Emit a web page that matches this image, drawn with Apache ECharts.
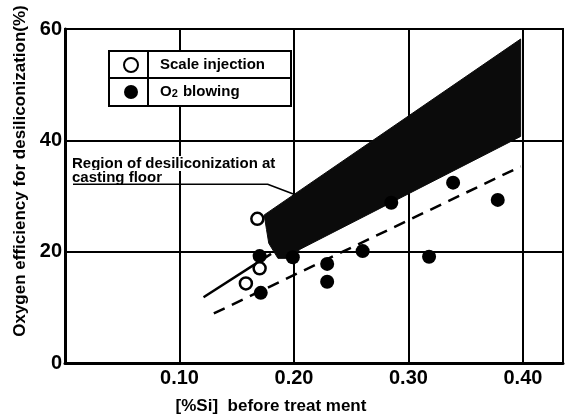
<!DOCTYPE html>
<html>
<head>
<meta charset="utf-8">
<script src="https://cdn.jsdelivr.net/npm/echarts@6/dist/echarts.min.js"></script>
<style>html,body{margin:0;padding:0;background:#fff}#c{width:566px;height:414px}</style>
</head>
<body>
<div id="c"></div>
<script>
// ---- data ----
const xTickValues = [0.10, 0.20, 0.30, 0.40];
const yTickValues = [0, 20, 40, 60];
const scaleX = [0.168, 0.170, 0.158];
const scaleY = [25.9, 17.0, 14.3];
const o2X = [0.170, 0.171, 0.199, 0.229, 0.229, 0.260, 0.285, 0.318, 0.339, 0.378];
const o2Y = [19.2, 12.6, 19.0, 17.8, 14.6, 20.1, 28.8, 19.1, 32.4, 29.3];
// shaded region (casting floor desiliconization) outline
const bandX = [0.174, 0.398, 0.398, 0.205, 0.199, 0.186, 0.178, 0.176];
const bandY = [26.6, 58.2, 40.7, 20.4, 18.8, 18.8, 21.5, 24.0];
// solid and dashed trend lines
const solidX = [0.121, 0.180];
const solidY = [11.8, 19.6];
const dashX = [0.130, 0.398];
const dashY = [8.9, 35.3];
// annotation leader line
const leaderX = [0.007, 0.177, 0.200];
const leaderY = [32.1, 32.1, 30.3];

const FONT = 'Liberation Sans, Arial, sans-serif';
const zip = (a, b) => a.map((v, i) => [v, b[i]]);

const chart = echarts.init(document.getElementById('c'), null, {renderer: 'canvas'});
chart.setOption({
  animation: false,
  backgroundColor: '#fff',
  grid: {left: 65, right: 3, top: 29, bottom: 51, show: true, borderColor: '#000', borderWidth: 2,
    containLabel: false, outerBoundsMode: 'none'},
  xAxis: {
    type: 'value', min: 0, max: 0.435, interval: 0.1,
    name: '[%Si]  before treat ment', nameLocation: 'middle', nameGap: 35,
    nameTextStyle: {fontSize: 17, fontWeight: 'bold', color: '#000', fontFamily: FONT, padding: [0, 86, 0, 0]},
    axisLine: {show: true, lineStyle: {color: '#000', width: 3}},
    axisTick: {show: false},
    axisLabel: {color: '#000', fontSize: 20, fontWeight: 'bold', fontFamily: FONT, margin: 5,
      formatter: v => (xTickValues.some(t => Math.abs(t - v) < 1e-9) ? v.toFixed(2) : '')},
    splitLine: {show: true, lineStyle: {color: '#000', width: 2}}
  },
  yAxis: {
    type: 'value', min: 0, max: 60, interval: 20,
    name: 'Oxygen efficiency for desiliconization(%)', nameLocation: 'middle', nameGap: 29, nameRotate: 90,
    nameTextStyle: {fontSize: 17, fontWeight: 'bold', color: '#000', fontFamily: FONT, padding: [0, 0, 0, 50]},
    axisLine: {show: true, lineStyle: {color: '#000', width: 3}},
    axisTick: {show: false},
    axisLabel: {color: '#000', fontSize: 20, fontWeight: 'bold', fontFamily: FONT, margin: 3,
      formatter: v => (yTickValues.includes(v) ? String(v) : '')},
    splitLine: {show: true, lineStyle: {color: '#000', width: 2}}
  },
  legend: {
    data: ['Scale injection', 'O2 blowing'],
    orient: 'vertical', left: 123, top: 57, padding: 0,
    itemWidth: 48, itemHeight: 14, itemGap: 10,
    textStyle: {fontSize: 15, fontWeight: 'bold', color: '#000', fontFamily: FONT, lineHeight: 14,
      rich: {sub: {fontSize: 11, fontWeight: 'bold', fontFamily: FONT, color: '#000', verticalAlign: 'bottom', lineHeight: 14, padding: [5, 1, 0, 0]}}},
    formatter: n => (n === 'O2 blowing' ? 'O{sub|2} blowing' : n),
    z: 5
  },
  graphic: [
    {type: 'rect', shape: {x: 109, y: 51, width: 182, height: 55}, style: {fill: '#fff', stroke: '#000', lineWidth: 2}, z: 3},
    {type: 'line', shape: {x1: 109, y1: 78, x2: 291, y2: 78}, style: {stroke: '#000', lineWidth: 2}, z: 3},
    {type: 'line', shape: {x1: 148, y1: 51, x2: 148, y2: 106}, style: {stroke: '#000', lineWidth: 2}, z: 3},
    {type: 'text', left: 72, top: 156, z: 3,
      style: {text: 'Region of desiliconization at', fontSize: 15, fontWeight: 'bold', fontFamily: FONT, fill: '#000', backgroundColor: '#fff'}},
    {type: 'text', left: 72, top: 170, z: 3,
      style: {text: 'casting floor', fontSize: 15, fontWeight: 'bold', fontFamily: FONT, fill: '#000', backgroundColor: '#fff'}}
  ],
  series: [
    {
      type: 'custom', name: 'Region', silent: true, z: 2,
      data: zip(bandX, bandY),
      renderItem: (params, api) => {
        if (params.dataIndex !== 0) return null;
        const pts = bandX.map((x, i) => api.coord([x, bandY[i]]));
        return {type: 'polygon', shape: {points: pts}, style: {fill: '#0b0b0b', stroke: '#0b0b0b', lineWidth: 1}};
      }
    },
    {type: 'line', name: 'solid', data: zip(solidX, solidY), symbol: 'none', silent: true, z: 2,
      lineStyle: {color: '#000', width: 2.5}},
    {type: 'line', name: 'dashed', data: zip(dashX, dashY), symbol: 'none', silent: true, z: 2,
      lineStyle: {color: '#000', width: 2.5, type: [12, 8]}},
    {type: 'line', name: 'leader', data: zip(leaderX, leaderY), symbol: 'none', silent: true, z: 4,
      lineStyle: {color: '#000', width: 1.6}},
    {type: 'scatter', name: 'O2 blowing', data: zip(o2X, o2Y), symbol: 'circle', symbolSize: 14, z: 3,
      itemStyle: {color: '#000', opacity: 1}},
    {type: 'scatter', name: 'Scale injection', data: zip(scaleX, scaleY), symbol: 'circle', symbolSize: 12, z: 3,
      itemStyle: {color: '#fff', borderColor: '#000', borderWidth: 2.5, opacity: 1}}
  ]
});
</script>
</body>
</html>
